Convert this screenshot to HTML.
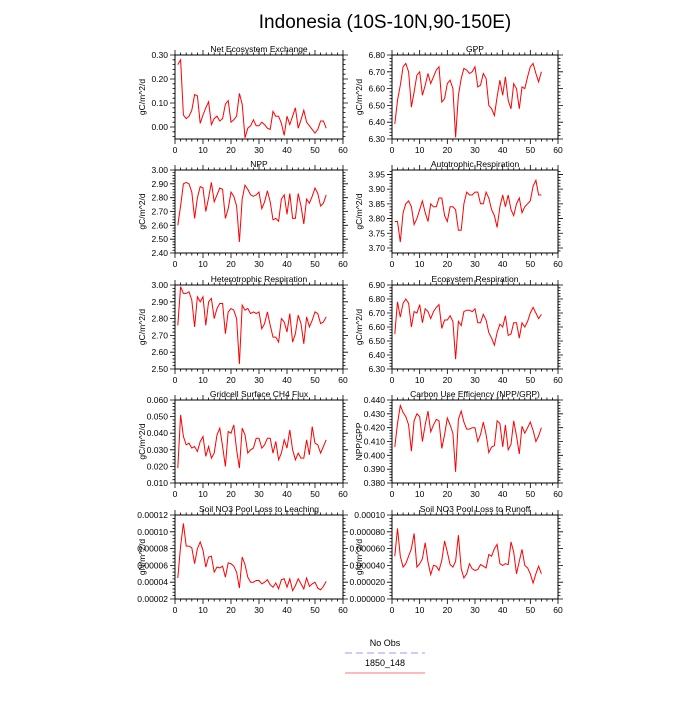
<!DOCTYPE html>
<html><head><meta charset="utf-8"><style>
body{margin:0;background:#fff;}
svg{font-family:"Liberation Sans",sans-serif;}
</style></head><body>
<svg id="c" width="700" height="700" viewBox="0 0 700 700">
<text x="385" y="28" font-size="19" text-anchor="middle">Indonesia (10S-10N,90-150E)</text>
<text x="385" y="646" font-size="9" text-anchor="middle">No Obs</text>
<line x1="345" y1="653" x2="425" y2="653" stroke="#99f" stroke-width="1" stroke-dasharray="7,4"/>
<text x="385" y="666" font-size="9" text-anchor="middle">1850_148</text>
<line x1="345" y1="673" x2="425" y2="673" stroke="#f77" stroke-width="1"/>
</svg>
<script>
const xTicks=[0,10,20,30,40,50,60];
const neeVals=[0.26,0.28,0.05,0.035,0.045,0.07,0.135,0.13,0.015,0.05,0.08,0.105,0.01,0.035,0.045,0.025,0.035,0.095,0.11,0.02,0.03,0.045,0.14,0.095,-0.045,-0.005,0.005,0.03,0.005,0.005,0.02,0.01,-0.005,-0.01,0.065,0.045,0.045,0.015,-0.035,0.045,0.01,0.045,0.08,-0.005,0.03,0.07,0.02,0.005,-0.01,-0.025,-0.01,0.025,0.025,-0.005];
const gppVals=[6.39,6.53,6.62,6.73,6.75,6.70,6.49,6.58,6.68,6.70,6.56,6.62,6.69,6.63,6.67,6.71,6.73,6.52,6.54,6.63,6.65,6.60,6.31,6.56,6.66,6.72,6.71,6.69,6.70,6.73,6.61,6.62,6.69,6.66,6.50,6.48,6.44,6.55,6.65,6.56,6.67,6.53,6.48,6.63,6.60,6.48,6.61,6.60,6.67,6.73,6.75,6.69,6.64,6.70];
const nppVals=[2.60,2.74,2.90,2.91,2.90,2.84,2.65,2.80,2.88,2.87,2.70,2.80,2.91,2.77,2.82,2.87,2.86,2.65,2.72,2.84,2.81,2.74,2.48,2.79,2.89,2.86,2.82,2.81,2.82,2.84,2.72,2.77,2.85,2.77,2.64,2.65,2.63,2.79,2.82,2.68,2.83,2.65,2.65,2.83,2.74,2.61,2.79,2.76,2.81,2.87,2.83,2.74,2.76,2.82];
const arVals=[3.79,3.79,3.72,3.82,3.85,3.86,3.84,3.78,3.80,3.83,3.86,3.82,3.79,3.85,3.84,3.84,3.87,3.87,3.81,3.79,3.84,3.84,3.83,3.76,3.76,3.85,3.89,3.88,3.88,3.89,3.89,3.85,3.85,3.89,3.87,3.83,3.81,3.77,3.84,3.88,3.84,3.88,3.83,3.81,3.85,3.87,3.82,3.84,3.85,3.86,3.91,3.93,3.88,3.88];
const hrVals=[2.76,2.99,2.95,2.95,2.96,2.91,2.75,2.93,2.90,2.93,2.76,2.90,2.92,2.80,2.86,2.89,2.89,2.71,2.84,2.86,2.85,2.80,2.53,2.88,2.85,2.86,2.83,2.84,2.83,2.84,2.74,2.77,2.84,2.76,2.69,2.69,2.66,2.80,2.78,2.72,2.83,2.66,2.71,2.82,2.77,2.65,2.81,2.75,2.79,2.84,2.83,2.77,2.78,2.81];
const erVals=[6.55,6.78,6.67,6.77,6.80,6.77,6.60,6.71,6.70,6.76,6.63,6.73,6.71,6.66,6.71,6.74,6.76,6.59,6.65,6.65,6.68,6.64,6.37,6.64,6.61,6.71,6.72,6.72,6.71,6.73,6.63,6.63,6.69,6.65,6.56,6.52,6.47,6.56,6.62,6.60,6.68,6.54,6.55,6.63,6.63,6.52,6.63,6.60,6.64,6.70,6.74,6.70,6.66,6.69];
const ch4Vals=[0.019,0.051,0.038,0.033,0.034,0.031,0.032,0.029,0.035,0.038,0.026,0.032,0.025,0.028,0.039,0.043,0.032,0.020,0.041,0.040,0.045,0.030,0.019,0.043,0.039,0.028,0.030,0.031,0.037,0.037,0.031,0.033,0.037,0.037,0.028,0.035,0.024,0.028,0.036,0.031,0.042,0.030,0.024,0.028,0.025,0.025,0.036,0.027,0.044,0.034,0.033,0.028,0.032,0.036];
const cueVals=[0.406,0.423,0.436,0.431,0.428,0.422,0.403,0.425,0.430,0.428,0.410,0.422,0.432,0.417,0.422,0.426,0.425,0.405,0.415,0.427,0.422,0.416,0.388,0.426,0.432,0.424,0.419,0.419,0.420,0.420,0.410,0.415,0.424,0.415,0.402,0.406,0.407,0.425,0.423,0.406,0.422,0.404,0.408,0.425,0.414,0.401,0.421,0.416,0.420,0.424,0.418,0.410,0.414,0.420];
const leachVals=[4.5e-5,8.3e-5,11.0e-5,8.3e-5,8.3e-5,8.1e-5,6.2e-5,8.0e-5,8.8e-5,7.8e-5,5.8e-5,7.0e-5,7.1e-5,5.2e-5,5.8e-5,5.7e-5,5.9e-5,4.6e-5,6.3e-5,6.2e-5,5.9e-5,5.2e-5,3.3e-5,7.0e-5,6.1e-5,4.6e-5,4.0e-5,4.0e-5,4.2e-5,4.2e-5,3.8e-5,4.0e-5,4.3e-5,3.7e-5,3.4e-5,3.9e-5,3.2e-5,4.3e-5,4.4e-5,3.4e-5,4.4e-5,3.0e-5,3.6e-5,4.4e-5,3.8e-5,3.2e-5,4.5e-5,3.5e-5,3.8e-5,4.0e-5,3.3e-5,3.1e-5,3.5e-5,4.1e-5];
const runoffVals=[51e-6,84e-6,51e-6,38e-6,42e-6,51e-6,60e-6,78e-6,38e-6,42e-6,48e-6,67e-6,44e-6,29e-6,40e-6,39e-6,34e-6,46e-6,69e-6,56e-6,41e-6,38e-6,45e-6,76e-6,36e-6,25e-6,30e-6,42e-6,36e-6,34e-6,35e-6,41e-6,39e-6,37e-6,53e-6,51e-6,60e-6,65e-6,42e-6,40e-6,42e-6,41e-6,68e-6,56e-6,30e-6,45e-6,59e-6,40e-6,37e-6,30e-6,19e-6,30e-6,39e-6,30e-6];
const neeTicks=["0.00","0.10","0.20","0.30"];
const gppTicks=["6.30","6.40","6.50","6.60","6.70","6.80"];
const nppTicks=["2.40","2.50","2.60","2.70","2.80","2.90","3.00"];
const arTicks=["3.70","3.75","3.80","3.85","3.90","3.95"];
const hrTicks=["2.50","2.60","2.70","2.80","2.90","3.00"];
const erTicks=["6.30","6.40","6.50","6.60","6.70","6.80","6.90"];
const ch4Ticks=["0.010","0.020","0.030","0.040","0.050","0.060"];
const cueTicks=["0.380","0.390","0.400","0.410","0.420","0.430","0.440"];
const leachTicks=["0.00002","0.00004","0.00006","0.00008","0.00010","0.00012"];
const runoffTicks=["0.000000","0.000020","0.000040","0.000060","0.000080","0.00010"];

const NS="http://www.w3.org/2000/svg";
const svg=document.getElementById('c');
function mk(t,a,p){const e=document.createElementNS(NS,t);for(const k in a)e.setAttribute(k,a[k]);(p||svg).appendChild(e);return e;}
const cols=[[175,343],[392,558]];
const rows=[[55,139],[170,253],[285,369],[400,483],[515,599]];
const panels=[
 {id:'nee',title:'Net Ecosystem Exchange',vals:neeVals,ticks:neeTicks,min:-0.05,max:0.30,minor:0.02,yl:'gC/m^2/d'},
 {id:'gpp',title:'GPP',vals:gppVals,ticks:gppTicks,min:6.30,max:6.80,minor:0.02,yl:'gC/m^2/d'},
 {id:'npp',title:'NPP',vals:nppVals,ticks:nppTicks,min:2.40,max:3.00,minor:0.02,yl:'gC/m^2/d'},
 {id:'ar',title:'Autotrophic Respiration',vals:arVals,ticks:arTicks,min:3.683,max:3.965,minor:0.01,yl:'gC/m^2/d'},
 {id:'hr',title:'Heterotrophic Respiration',vals:hrVals,ticks:hrTicks,min:2.50,max:3.00,minor:0.02,yl:'gC/m^2/d'},
 {id:'er',title:'Ecosystem Respiration',vals:erVals,ticks:erTicks,min:6.30,max:6.90,minor:0.02,yl:'gC/m^2/d'},
 {id:'ch4',title:'Gridcell Surface CH4 Flux',vals:ch4Vals,ticks:ch4Ticks,min:0.010,max:0.060,minor:0.002,yl:'gC/m^2/d'},
 {id:'cue',title:'Carbon Use Efficiency (NPP/GPP)',vals:cueVals,ticks:cueTicks,min:0.380,max:0.440,minor:0.002,yl:'NPP/GPP'},
 {id:'leach',title:'Soil NO3 Pool Loss to Leaching',vals:leachVals,ticks:leachTicks,min:0.00002,max:0.00012,minor:0.000004,yl:'gN/m^2/d'},
 {id:'runoff',title:'Soil NO3 Pool Loss to Runoff',vals:runoffVals,ticks:runoffTicks,min:0,max:0.0001,minor:0.000004,yl:'gN/m^2/d'}
];
panels.forEach((p,i)=>{
 const [x0,x1]=cols[i%2],[y0,y1]=rows[Math.floor(i/2)];
 const g=mk('g',{});
 
 
 const X=v=>x0+(v-0)/(60-0)*(x1-x0);
 const Y=v=>y1-(v-p.min)/(p.max-p.min)*(y1-y0);
 const t=mk('text',{x:(x0+x1)/2,y:y0-3,'font-size':8.5,'text-anchor':'middle'},g);t.textContent=p.title;
 
 const yl=mk('text',{x:0,y:0,'font-size':8.5,'text-anchor':'middle',transform:`translate(${x0-30},${(y0+y1)/2}) rotate(-90)`},g);yl.textContent=p.yl;
 
 let d='';
 // minor y ticks
 const eps=1e-9;
 for(let v=Math.ceil(p.min/p.minor-eps)*p.minor;v<=p.max+eps;v+=p.minor){const y=Y(v);d+=`M${x0} ${y}h-2.5M${x1} ${y}h2.5`;}
 p.ticks.forEach(s=>{const v=parseFloat(s),y=Y(v);d+=`M${x0} ${y}h-5M${x1} ${y}h5`;
  const tl=mk('text',{x:x0-7,y:y+3,'font-size':8.5,'text-anchor':'end'},g);tl.textContent=s;
  });
 for(let v=0;v<=60;v+=2){const x=X(v);d+=`M${x} ${y1}v2.5M${x} ${y0}v-2.5`;}
 xTicks.forEach(v=>{const x=X(v);d+=`M${x} ${y1}v5M${x} ${y0}v-5`;
  const tl=mk('text',{x:x,y:y1+14,'font-size':8.5,'text-anchor':'middle'},g);tl.textContent=v;
  });
 const tk=mk('path',{d:d,stroke:'#000','stroke-width':0.8,fill:'none'},g);
 
 const fr=mk('rect',{x:x0,y:y0,width:x1-x0,height:y1-y0,fill:'none',stroke:'#000','stroke-width':1},g);
 
 const pts=p.vals.map((v,k)=>X(k+1).toFixed(1)+','+Y(v).toFixed(1)).join(' ');
 const ln=mk('polyline',{points:pts,fill:'none',stroke:'#f00','stroke-width':1},g);
 
});
</script>
</body></html>
